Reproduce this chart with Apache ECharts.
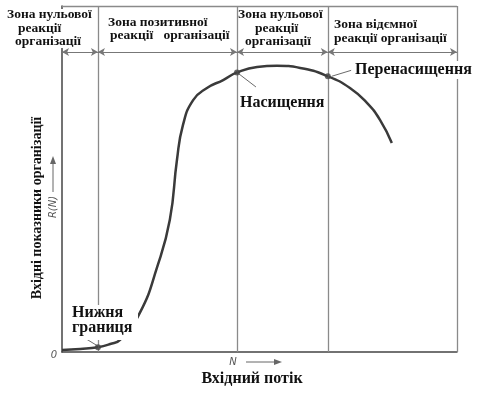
<!DOCTYPE html>
<html><head><meta charset="utf-8">
<script src="https://cdn.jsdelivr.net/npm/echarts@6/dist/echarts.min.js"></script>
<style>html,body{margin:0;padding:0;background:#fff}#c{width:481px;height:396px}</style>
</head><body><div id="c"></div>
<script>
// Curve: input flow (x) vs organisation output (y), arbitrary units 0..100
const curveX = [0, 4.6, 9.1, 12.2, 14.7, 19.7, 24.1, 27.3, 29.1, 30.6, 33.2, 36.7, 40.8, 44.3, 49.4, 54.4, 60.3, 67.3, 72.9, 77.2, 80.5, 83.5];
const curveY = [0.6, 0.9, 1.4, 2.3, 3.5, 11.3, 24.6, 38.2, 55.5, 65.5, 72.8, 76.3, 78.6, 80.8, 82.4, 82.7, 82.1, 79.7, 76.3, 72.0, 67.1, 60.4];
// zone boundaries on the input axis
const zoneBounds = [0, 9.1, 44.3, 67.3, 100];
const arrowLevel = 86.7;
// key points: lower bound, saturation, oversaturation
const keyX = [9.1, 44.3, 67.3];
const keyY = [1.4, 80.8, 79.7];
const keyLabels = ['Нижня', 'границя', 'Насищення', 'Перенасищення'];
const zoneTitles = [
  ['Зона нульової', 'реакції', 'організації'],
  ['Зона позитивної', 'реакції   організації'],
  ['Зона нульової', 'реакції', 'організації'],
  ['Зона відємної', 'реакції організації']
];
const yTitle = 'Вхідні показники організації';
const xTitle = 'Вхідний потік';

const chart = echarts.init(document.getElementById('c'));
const serifB = 'bold 13.5px "Liberation Serif", serif';
const serifL = 'bold 16px "Liberation Serif", serif';

const frameLines = [];
for (let i = 1; i < zoneBounds.length; i++) {
  frameLines.push([{coord: [zoneBounds[i], 0]}, {coord: [zoneBounds[i], 100]}]);
}
frameLines.push([{coord: [0, 100]}, {coord: [100, 100]}]);

const arrowLines = [];
for (let i = 0; i < zoneBounds.length - 1; i++) {
  arrowLines.push([{coord: [zoneBounds[i], arrowLevel]}, {coord: [zoneBounds[i + 1], arrowLevel]}]);
}

const leaders = [
  [{coord: [5.8, 4.0]}, {coord: [keyX[0], keyY[0] + 0.3]}],
  [{coord: [keyX[1], keyY[1]]}, {coord: [49.1, 76.6]}],
  [{coord: [keyX[2] + 1, keyY[2]]}, {coord: [73.2, 81.4]}]
];

const zonePos = [
  [[7, 15], [18, 29], [15, 42]],
  [[108, 23], [110, 36]],
  [[238, 15], [255, 29], [245, 42]],
  [[334, 25], [334, 39]]
];
const graphics = [];
graphics.push({type: 'rect', z: 100, shape: {x: 2, y: 9, width: 93, height: 39}, style: {fill: '#fff'}});
graphics.push({type: 'rect', z: 100, shape: {x: 70, y: 305, width: 68, height: 35}, style: {fill: '#fff'}});
graphics.push({type: 'rect', z: 100, shape: {x: 353, y: 61, width: 128, height: 18}, style: {fill: '#fff'}});
zoneTitles.forEach((lines, zi) => {
  lines.forEach((t, li) => {
    graphics.push({type: 'text', z: 101, x: zonePos[zi][li][0], y: zonePos[zi][li][1],
      style: {text: t, font: serifB, fill: '#111', textAlign: 'left', textVerticalAlign: 'middle'}});
  });
});
graphics.push({type: 'text', z: 101, x: 72, y: 313, style: {text: keyLabels[0], font: serifL, fill: '#111', textVerticalAlign: 'middle'}});
graphics.push({type: 'text', z: 101, x: 72, y: 328, style: {text: keyLabels[1], font: serifL, fill: '#111', textVerticalAlign: 'middle'}});
graphics.push({type: 'text', z: 101, x: 240, y: 103, style: {text: keyLabels[2], font: serifL, fill: '#111', textVerticalAlign: 'middle'}});
graphics.push({type: 'text', z: 101, x: 355, y: 70, style: {text: keyLabels[3], font: serifL, fill: '#111', textVerticalAlign: 'middle'}});
graphics.push({type: 'text', z: 101, x: 252, y: 379, style: {text: xTitle, font: 'bold 16px "Liberation Serif", serif', fill: '#111', textAlign: 'center', textVerticalAlign: 'middle'}});
graphics.push({type: 'text', z: 101, x: 37, y: 208, rotation: Math.PI / 2, style: {text: yTitle, font: 'bold 14px "Liberation Serif", serif', fill: '#111', textAlign: 'center', textVerticalAlign: 'middle'}});
const ital = 'italic 10px "DejaVu Sans", sans-serif';
graphics.push({type: 'text', z: 101, x: 54, y: 355, style: {text: '0', font: ital, fill: '#555', textAlign: 'center', textVerticalAlign: 'middle'}});
graphics.push({type: 'text', z: 101, x: 233, y: 362, style: {text: 'N', font: ital, fill: '#555', textAlign: 'center', textVerticalAlign: 'middle'}});
graphics.push({type: 'line', z: 101, shape: {x1: 246, y1: 362, x2: 276, y2: 362}, style: {stroke: '#666', lineWidth: 1}});
graphics.push({type: 'polygon', z: 101, shape: {points: [[274, 359], [282, 362], [274, 365]]}, style: {fill: '#666'}});
graphics.push({type: 'text', z: 101, x: 53, y: 207, rotation: Math.PI / 2, style: {text: 'R(N)', font: ital, fill: '#555', textAlign: 'center', textVerticalAlign: 'middle'}});
graphics.push({type: 'line', z: 101, shape: {x1: 53, y1: 192, x2: 53, y2: 162}, style: {stroke: '#666', lineWidth: 1}});
graphics.push({type: 'polygon', z: 101, shape: {points: [[50, 164], [53, 156], [56, 164]]}, style: {fill: '#666'}});

chart.setOption({
  animation: false,
  backgroundColor: '#fff',
  grid: {left: 62, right: 24, top: 6, bottom: 44},
  xAxis: {type: 'value', min: 0, max: 100, axisLine: {show: true, lineStyle: {color: '#444', width: 1.5}},
    axisTick: {show: false}, axisLabel: {show: false}, splitLine: {show: false}},
  yAxis: {type: 'value', min: 0, max: 100, axisLine: {show: true, lineStyle: {color: '#444', width: 1.5}},
    axisTick: {show: false}, axisLabel: {show: false}, splitLine: {show: false}},
  series: [
    {type: 'line', data: [], silent: true,
      markLine: {silent: true, symbol: ['none', 'none'], label: {show: false},
        lineStyle: {type: 'solid', color: '#8a8a8a', width: 1.3}, data: frameLines}},
    {type: 'line', data: [], silent: true,
      markLine: {silent: true, symbol: ['arrow', 'arrow'], symbolSize: [6, 7], label: {show: false},
        lineStyle: {type: 'solid', color: '#777', width: 1}, data: arrowLines}},
    {type: 'line', data: [], silent: true,
      markLine: {silent: true, symbol: ['none', 'none'], label: {show: false},
        lineStyle: {type: 'solid', color: '#444', width: 0.8}, data: leaders}},
    {type: 'line', smooth: 0.5, showSymbol: false, silent: true,
      data: curveX.map((x, i) => [x, curveY[i]]),
      lineStyle: {color: '#3a3a3a', width: 2.5}},
    {type: 'scatter', symbolSize: 6, silent: true, z: 5,
      itemStyle: {color: '#444'},
      data: keyX.map((x, i) => [x, keyY[i]])}
  ],
  graphic: graphics
});
</script></body></html>
